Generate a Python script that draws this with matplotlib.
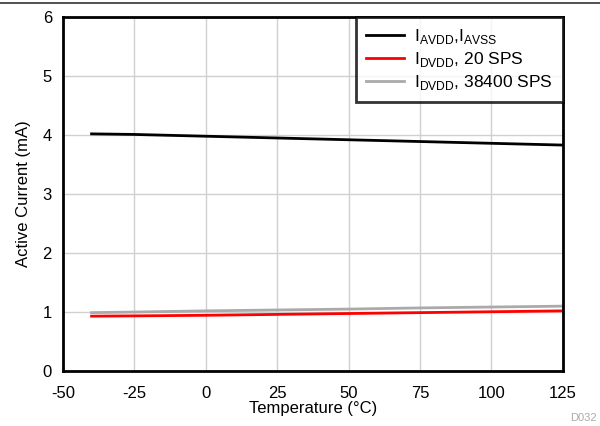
import matplotlib.pyplot as plt
from matplotlib.lines import Line2D

temps = [-40, -25, 0, 25, 50, 75, 100, 125]
i_avdd = [4.02, 4.01, 3.98, 3.95, 3.92, 3.89, 3.86, 3.83]
i_dvdd_20 = [0.93, 0.935, 0.945, 0.96, 0.975, 0.99, 1.005, 1.02]
i_dvdd_38400 = [0.99, 1.0, 1.02, 1.035, 1.05, 1.07, 1.085, 1.10]

xticks = [-50, -25, 0, 25, 50, 75, 100, 125]
yticks = [0, 1, 2, 3, 4, 5, 6]

plt.rcParams['font.family'] = ['Liberation Sans', 'DejaVu Sans']
plt.rcParams['axes.unicode_minus'] = False

fig = plt.figure(figsize=(6, 4.26), dpi=100)
ax = fig.add_axes([0.105, 0.129, 0.833, 0.831])

ax.plot(temps, i_avdd, color='black', lw=2, label='I$_{\\mathregular{AVDD}}$,I$_{\\mathregular{AVSS}}$')
ax.plot(temps, i_dvdd_20, color='#ff0000', lw=2, label='I$_{\\mathregular{DVDD}}$, 20 SPS')
ax.plot(temps, i_dvdd_38400, color='#aaaaaa', lw=2, label='I$_{\\mathregular{DVDD}}$, 38400 SPS')

ax.set_xlim(-50, 125)
ax.set_ylim(0, 6)
ax.set_xticks(xticks)
ax.set_yticks(yticks)
ax.grid(True, color='#d0d0d0', lw=1)
ax.set_axisbelow(True)
ax.tick_params(axis='x', length=0, labelsize=12, pad=11)
ax.tick_params(axis='y', length=0, labelsize=12, pad=8)
for s in ax.spines.values():
    s.set_linewidth(2)
ax.set_xlabel('Temperature (°C)', fontsize=12, labelpad=0)
ax.set_ylabel('Active Current (mA)', fontsize=12, labelpad=8)

leg = ax.legend(loc='upper right', fontsize=12.5, frameon=True, fancybox=False,
                borderpad=0.55, handlelength=2.2, labelspacing=0.25,
                handletextpad=0.6, borderaxespad=0)
leg.get_frame().set_edgecolor('black')
leg.get_frame().set_linewidth(2)

fig.add_artist(Line2D([0, 1], [0.993, 0.993], color='#333333', lw=1.2))
fig.text(0.995, 0.012, 'D032', fontsize=8, color='#aaaaaa', ha='right')

fig.savefig('out.png')
